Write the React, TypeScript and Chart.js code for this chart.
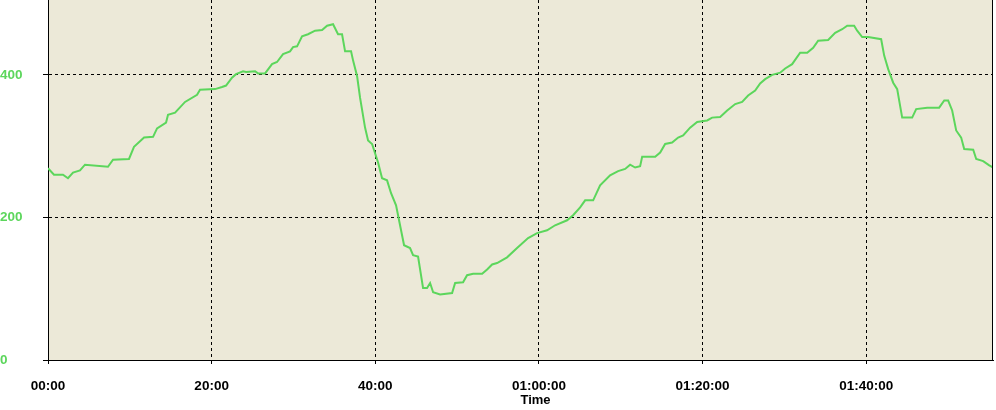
import { useEffect, useRef } from "react";
import { Chart, registerables } from "chart.js";

Chart.register(...registerables);

// Elapsed time in minutes
const timeMinutes = [
  0.0, 0.73, 1.83, 2.44, 3.06, 3.91, 4.52, 7.33, 7.95, 9.9, 10.51, 11.74, 12.84, 13.33, 14.43, 14.67,
  15.53, 16.75, 18.22, 18.58, 20.42, 21.27, 21.76, 22.49, 22.98, 23.84, 24.21, 25.31, 25.67, 26.53,
  27.38, 27.99, 28.73, 29.58, 29.95, 30.44, 31.05, 31.78, 32.64, 33.5, 34.11, 34.84, 35.45, 35.94,
  36.31, 37.04, 37.29, 37.78, 38.14, 38.75, 39.12, 39.61, 40.34, 40.83, 41.44, 41.93, 42.54, 43.52,
  44.25, 44.62, 45.23, 45.84, 46.33, 46.7, 47.07, 47.92, 49.39, 49.76, 50.73, 51.22, 51.96, 53.06,
  53.67, 54.28, 54.89, 56.11, 57.33, 58.68, 59.78, 61.0, 61.98, 63.45, 64.18, 65.04, 65.65, 66.63,
  67.48, 68.7, 69.68, 70.54, 71.15, 71.76, 72.37, 72.62, 74.21, 74.82, 75.43, 76.28, 77.02, 77.63,
  78.48, 79.34, 80.56, 81.17, 82.15, 83.01, 83.99, 84.84, 85.57, 86.43, 87.04, 87.65, 88.51, 89.49,
  90.1, 90.95, 91.93, 92.79, 93.52, 94.13, 95.35, 96.21, 97.07, 97.68, 98.53, 98.9, 99.51, 100.24,
  101.83, 102.2, 102.69, 103.3, 103.79, 104.4, 105.62, 106.11, 107.46, 108.92, 109.54, 110.02,
  110.51, 111.0, 111.61, 111.98, 113.08, 113.45, 114.3, 115.04, 115.53,
];

const values = [
  269, 260, 260, 255, 263, 266, 274, 271, 281, 282, 299, 312, 313, 325, 333, 344,
  347, 362, 372, 379, 380, 383, 385, 396, 401, 405, 404, 405, 402, 402,
  415, 418, 429, 433, 439, 440, 454, 457, 462, 463, 469, 471, 457, 457,
  433, 433, 420, 398, 368, 326, 308, 303, 277, 255, 252, 234, 217, 161,
  157, 147, 145, 101, 101, 108, 95, 92, 94, 108, 109, 119, 121, 121,
  127, 134, 136, 144, 157, 171, 178, 182, 189, 196, 203, 214, 224, 224,
  245, 259, 265, 268, 274, 270, 272, 285, 285, 291, 303, 305, 312, 315,
  326, 334, 336, 340, 341, 350, 359, 362, 371, 378, 388, 394, 400, 403,
  409, 415, 431, 431, 438, 448, 449, 459, 464, 469, 469, 462, 453, 453,
  450, 427, 408, 389, 380, 340, 340, 352, 354, 354, 364, 364,
  350, 322, 312, 296, 295, 282, 279, 273, 270,
];

const xTickValues = [0, 20, 40, 60, 80, 100];
const xTickLabels = ["00:00", "20:00", "40:00", "01:00:00", "01:20:00", "01:40:00"];
const yTickValues = [0, 200, 400];
const yTickLabels = ["0", "200", "400"];
const xAxisTitle = "Time";

const X_MAX = 115.5;
const Y_MAX = 505;
const LINE_COLOR = "#5CD65C";
const PLOT_BG = "#ECE9D8";
const FONT_FAMILY = '"Liberation Sans", Arial, sans-serif';

export default function App() {
  const canvasRef = useRef<HTMLCanvasElement | null>(null);

  useEffect(() => {
    const canvas = canvasRef.current;
    if (!canvas) return;

    const plotDecor = {
      id: "plotDecor",
      beforeDraw(chart: any) {
        const { ctx, chartArea } = chart;
        ctx.save();
        ctx.fillStyle = PLOT_BG;
        ctx.fillRect(chartArea.left, chartArea.top, chartArea.right - chartArea.left, chartArea.bottom - chartArea.top);
        ctx.restore();
      },
      afterDraw(chart: any) {
        const { ctx, chartArea } = chart;
        ctx.save();
        ctx.strokeStyle = "#000";
        ctx.lineWidth = 1;
        ctx.beginPath();
        const rx = Math.round(chartArea.right) - 0.5;
        ctx.moveTo(rx, chartArea.top);
        ctx.lineTo(rx, chartArea.bottom);
        ctx.stroke();
        ctx.fillStyle = "#000";
        ctx.font = "bold 13px " + FONT_FAMILY;
        ctx.textAlign = "center";
        ctx.textBaseline = "middle";
        ctx.fillText(xAxisTitle, (chartArea.left + chartArea.right) / 2 + 15, chartArea.bottom + 40);
        ctx.restore();
      },
    };

    const chart = new Chart(canvas, {
      type: "line",
      data: {
        datasets: [
          {
            data: timeMinutes.map((t, i) => ({ x: t, y: values[i] })),
            borderColor: LINE_COLOR,
            borderWidth: 2,
            pointRadius: 0,
            tension: 0,
            fill: false,
          },
        ],
      },
      options: {
        animation: false,
        responsive: false,
        maintainAspectRatio: false,
        layout: { padding: { left: 0, right: 3, top: 0, bottom: 0 } },
        plugins: { legend: { display: false }, tooltip: { enabled: false } },
        scales: {
          x: {
            type: "linear",
            min: 0,
            max: X_MAX,
            afterBuildTicks: (scale: any) => {
              scale.ticks = xTickValues.map((v) => ({ value: v }));
            },
            afterFit: (scale: any) => {
              scale.height = 50;
              scale.paddingLeft = 0;
              scale.paddingRight = 0;
              scale.paddingTop = 0;
              scale.paddingBottom = 0;
            },
            ticks: {
              autoSkip: false,
              maxRotation: 0,
              minRotation: 0,
              padding: 14,
              color: "#000",
              font: { family: FONT_FAMILY, weight: "bold", size: 13.5 },
              callback: (v: any) => {
                const i = xTickValues.indexOf(Number(v));
                return i >= 0 ? xTickLabels[i] : "";
              },
            },
            grid: { color: "#000", lineWidth: 1, tickLength: 4, tickColor: "#000" },
            border: { display: true, color: "#000", width: 1, dash: [3, 3] },
          },
          y: {
            type: "linear",
            min: 0,
            max: Y_MAX,
            afterBuildTicks: (scale: any) => {
              scale.ticks = yTickValues.map((v) => ({ value: v }));
            },
            afterFit: (scale: any) => {
              scale.width = 48;
              scale.paddingLeft = 0;
              scale.paddingRight = 0;
              scale.paddingTop = 0;
              scale.paddingBottom = 0;
            },
            ticks: {
              crossAlign: "far",
              color: LINE_COLOR,
              font: { family: FONT_FAMILY, weight: "bold", size: 13.5 },
              callback: (v: any) => {
                const i = yTickValues.indexOf(Number(v));
                return i >= 0 ? yTickLabels[i] : "";
              },
            },
            grid: { color: "#000", lineWidth: 1, tickLength: 5, tickColor: "#000" },
            border: { display: true, color: "#000", width: 1, dash: [3, 3] },
          },
        },
      },
      plugins: [plotDecor],
    } as any);

    return () => chart.destroy();
  }, []);

  return (
    <div style={{ position: "fixed", left: 0, top: 0, width: 996, height: 410, background: "#fff" }}>
      <canvas ref={canvasRef} width={996} height={410} style={{ display: "block", width: 996, height: 410 }} />
    </div>
  );
}
